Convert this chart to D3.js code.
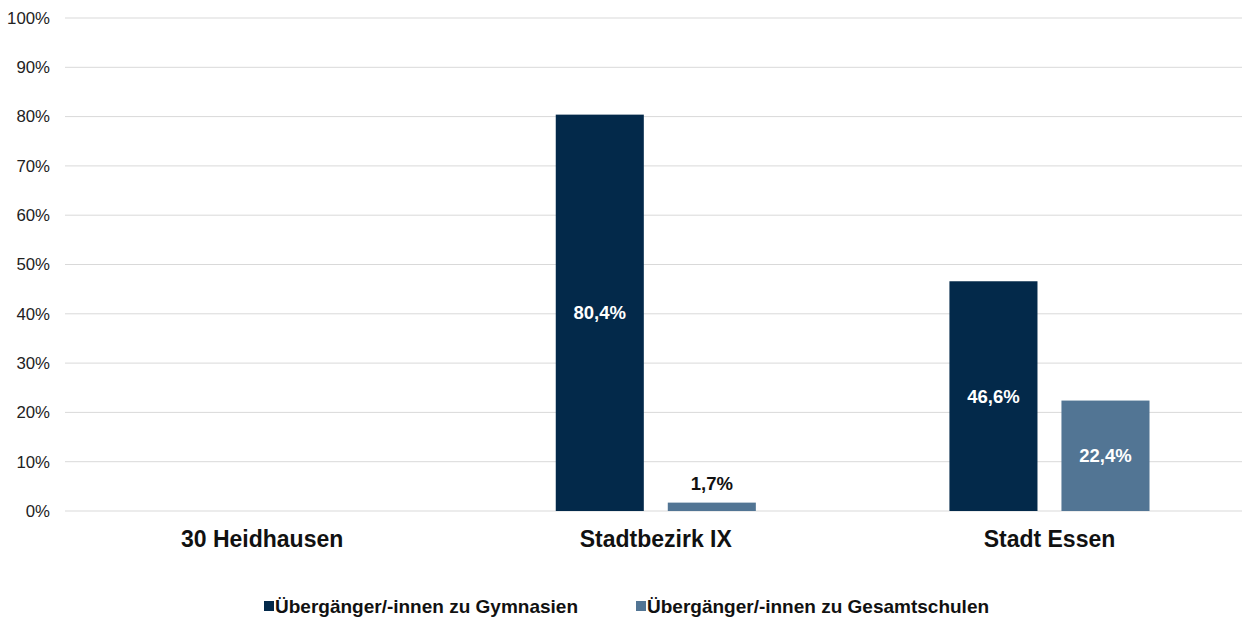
<!DOCTYPE html>
<html><head><meta charset="utf-8">
<script src="https://cdn.jsdelivr.net/npm/d3@7"></script>
<style>body{margin:0;background:#fff;}svg{display:block;font-family:"Liberation Sans",Arial,sans-serif;}</style>
</head><body>
<svg id="c" width="1242" height="619"></svg>
<script>
const categories = ["30 Heidhausen", "Stadtbezirk IX", "Stadt Essen"];
const seriesNames = ["Übergänger/-innen zu Gymnasien", "Übergänger/-innen zu Gesamtschulen"];
const gymnasien = [null, 80.4, 46.6];
const gesamtschulen = [null, 1.7, 22.4];
const yTicks = [0, 10, 20, 30, 40, 50, 60, 70, 80, 90, 100];
const colors = ["#03294a", "#527594"];

const svg = d3.select("#c");
const x0 = d3.scaleBand().domain(categories).range([65.3, 1246.3]).padding(0);
const x1 = d3.scaleBand().domain([0, 1]).range([0, x0.bandwidth()]).paddingInner(0.214).paddingOuter(0.864);
const y = d3.scaleLinear().domain([0, 100]).range([511, 18]);

// gridlines
svg.append("g").selectAll("line").data(yTicks).join("line")
  .attr("x1", 65).attr("x2", 1242)
  .attr("y1", d => y(d)).attr("y2", d => y(d))
  .attr("stroke", "#d9d9d9").attr("stroke-width", 1);

// y axis labels
const yAxis = d3.axisLeft(y).tickValues(yTicks).tickFormat(d => d + "%").tickSize(0).tickPadding(0);
const ga = svg.append("g").attr("transform", "translate(50,0)").call(yAxis);
ga.select(".domain").remove();
ga.selectAll("text").attr("font-size", 16.8).attr("fill", "#222").attr("font-family", "Liberation Sans, Arial, sans-serif");

// bars
const data = [];
categories.forEach((c, i) => {
  [gymnasien[i], gesamtschulen[i]].forEach((v, s) => { if (v != null) data.push({c, s, v}); });
});
svg.append("g").selectAll("rect").data(data).join("rect")
  .attr("x", d => x0(d.c) + x1(d.s))
  .attr("width", x1.bandwidth())
  .attr("y", d => y(d.v))
  .attr("height", d => y(0) - y(d.v))
  .attr("fill", d => colors[d.s]);

// data labels
const fmt = v => v.toFixed(1).replace(".", ",") + "%";
svg.append("g").selectAll("text").data(data).join("text")
  .attr("x", d => x0(d.c) + x1(d.s) + x1.bandwidth() / 2)
  .attr("y", d => {
    const h = y(0) - y(d.v);
    return h > 30 ? (y(d.v) + y(0)) / 2 : y(d.v) - 19;
  })
  .attr("dy", "0.35em")
  .attr("text-anchor", "middle")
  .attr("font-size", 18.5).attr("font-weight", "bold")
  .attr("fill", d => (y(0) - y(d.v) > 30) ? "#fff" : "#111")
  .text(d => fmt(d.v));

// category labels
svg.append("g").selectAll("text").data(categories).join("text")
  .attr("x", d => x0(d) + x0.bandwidth() / 2)
  .attr("y", 547)
  .attr("text-anchor", "middle")
  .attr("font-size", 23).attr("font-weight", "bold").attr("fill", "#111")
  .text(d => d);

// legend
const legX = [264, 636];
const lg = svg.append("g").selectAll("g").data(seriesNames).join("g")
  .attr("transform", (d, i) => `translate(${legX[i]},606)`);
lg.append("rect").attr("x", 0).attr("y", -5).attr("width", 10).attr("height", 10).attr("fill", (d, i) => colors[i]);
lg.append("text").attr("x", 11).attr("y", 0).attr("dy", "0.35em")
  .attr("font-size", 19).attr("font-weight", "bold").attr("fill", "#111").text(d => d);
</script>
</body></html>
